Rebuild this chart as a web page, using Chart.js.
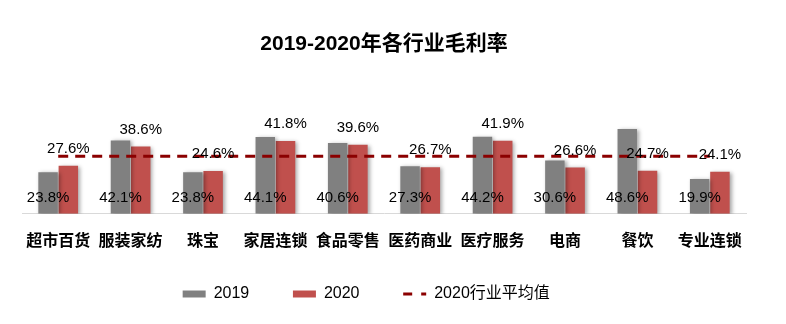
<!DOCTYPE html>
<html>
<head>
<meta charset="utf-8">
<script src="https://cdn.jsdelivr.net/npm/chart.js@4/dist/chart.umd.min.js"></script>
<style>
  html, body { margin: 0; padding: 0; background: #fff; }
  #wrap { width: 786px; height: 324px; position: relative; }
</style>
</head>
<body>
<div id="wrap"><canvas id="chart"></canvas></div>
<script>
// --- ข้อมูล ---
const categories = ['超市百货', '服装家纺', '珠宝', '家居连锁', '食品零售', '医药商业', '医疗服务', '电商', '餐饮', '专业连锁'];
const values2019 = [23.8, 42.1, 23.8, 44.1, 40.6, 27.3, 44.2, 30.6, 48.6, 19.9];
const values2020 = [27.6, 38.6, 24.6, 41.8, 39.6, 26.7, 41.9, 26.6, 24.7, 24.1];
const average2020 = [33, 33, 33, 33, 33, 33, 33, 33, 33, 33];
const seriesNames = ['2019', '2020', '2020行业平均值'];

const FONT = "'Liberation Sans', Arial, 'Noto Sans CJK SC', sans-serif";

// ช่องว่างท้ายข้อความ legend เพื่อให้ระยะห่างเหมือนต้นฉบับ
const legendGap = ['      ', '      ', '        '];

// ป้ายตัวเลข: 2019 วางใกล้ฐาน, 2020 วางเหนือแท่ง
const valueLabels = {
    id: 'valueLabels',
    afterDatasetsDraw(chart) {
        const ctx = chart.ctx;
        const base = chart.scales.y.getPixelForValue(0);
        ctx.save();
        ctx.font = '15px ' + FONT;
        ctx.fillStyle = '#000';
        ctx.textAlign = 'center';
        ctx.textBaseline = 'middle';
        [0, 1].forEach(i => {
            const meta = chart.getDatasetMeta(i);
            const data = chart.data.datasets[i].data;
            meta.data.forEach((bar, j) => {
                const y = i === 0 ? base - 16 : bar.y - 17;
                ctx.fillText(data[j].toFixed(1) + '%', bar.x, y);
            });
        });
        ctx.restore();
    }
};

// เงาของแท่ง
const barShadow = {
    id: 'barShadow',
    beforeDatasetDraw(chart, args) {
        if (args.meta.type !== 'bar') return;
        const ctx = chart.ctx;
        ctx.save();
        ctx.shadowColor = 'rgba(0,0,0,0.35)';
        ctx.shadowBlur = 4;
        ctx.shadowOffsetX = 2;
        ctx.shadowOffsetY = 1;
    },
    afterDatasetDraw(chart, args) {
        if (args.meta.type !== 'bar') return;
        chart.ctx.restore();
    }
};

new Chart(document.getElementById('chart'), {
    type: 'bar',
    data: {
        labels: categories,
        datasets: [
            {
                label: seriesNames[0],
                data: values2019,
                backgroundColor: '#808080',
                categoryPercentage: 0.56,
                barPercentage: 0.96,
                order: 1
            },
            {
                label: seriesNames[1],
                data: values2020,
                backgroundColor: '#C0504D',
                categoryPercentage: 0.56,
                barPercentage: 0.96,
                order: 1
            },
            {
                type: 'line',
                label: seriesNames[2],
                data: average2020,
                borderColor: '#8B0000',
                backgroundColor: '#8B0000',
                borderWidth: 3,
                borderDash: [10, 7],
                pointRadius: 0,
                fill: false,
                order: 0
            }
        ]
    },
    options: {
        responsive: true,
        maintainAspectRatio: false,
        animation: false,
        layout: { padding: { left: 22, right: 40, top: 10, bottom: 12 } },
        scales: {
            x: {
                grid: { display: false, drawTicks: false },
                border: { display: true, color: '#D9D9D9', width: 1 },
                ticks: {
                    color: '#000',
                    padding: 18,
                    maxRotation: 0,
                    autoSkip: false,
                    font: { family: FONT, size: 16, weight: 'bold' }
                }
            },
            y: {
                display: false,
                min: 0,
                max: 60
            }
        },
        plugins: {
            title: {
                display: true,
                text: '2019-2020年各行业毛利率',
                color: '#000',
                font: { family: FONT, size: 21, weight: 'bold' },
                padding: { top: 22, bottom: 52 }
            },
            legend: {
                position: 'bottom',
                labels: {
                    color: '#000',
                    font: { family: FONT, size: 16 },
                    usePointStyle: true,
                    pointStyleWidth: 23,
                    boxWidth: 23,
                    boxHeight: 7,
                    padding: 17,
                    generateLabels(chart) {
                        return chart.data.datasets.map((ds, i) => ({
                            text: ds.label + legendGap[i],
                            fillStyle: ds.backgroundColor,
                            strokeStyle: ds.borderColor || ds.backgroundColor,
                            lineWidth: ds.type === 'line' ? 3 : 0,
                            lineDash: ds.type === 'line' ? [9, 9] : [],
                            pointStyle: ds.type === 'line' ? 'line' : 'rect',
                            fontColor: '#000',
                            datasetIndex: i
                        }));
                    }
                }
            },
            tooltip: { enabled: false }
        }
    },
    plugins: [valueLabels, barShadow]
});
</script>
</body>
</html>
